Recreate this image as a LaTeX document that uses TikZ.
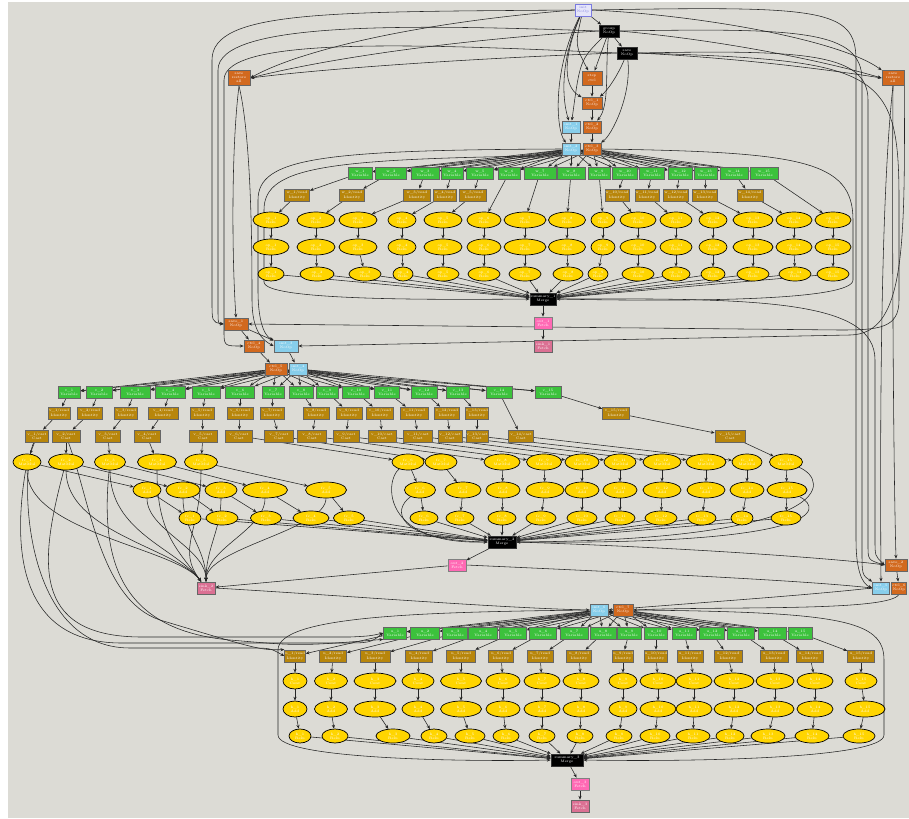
\documentclass[tikz,border=0pt]{standalone}
\usetikzlibrary{arrows.meta, shapes.geometric}

\definecolor{canvas}{HTML}{DCDBD5}
\definecolor{leafgreen}{HTML}{3CC23C}
\definecolor{readbrown}{HTML}{B8860B}
\definecolor{tensorgold}{HTML}{FFD500}
\definecolor{ctrlorange}{HTML}{D2691E}
\definecolor{initblue}{HTML}{87CEEB}
\definecolor{outpink}{HTML}{FF69B4}
\definecolor{lastpink}{HTML}{DB7093}
\definecolor{entryfill}{HTML}{E6E6FA}
\definecolor{entryline}{HTML}{7B7BE0}

\pgfdeclarelayer{canvaslayer}
\pgfdeclarelayer{edgelayer}
\pgfsetlayers{canvaslayer,edgelayer,main}

\tikzset{
  opbox/.style={rectangle, draw=black!60, line width=0.4pt, minimum height=0.24cm,
    inner sep=0.2pt, text=white, align=center, font=\fontsize{2}{2.4}\selectfont},
  entrybox/.style={opbox, fill=entryfill, draw=entryline, text=entryline, line width=0.5pt},
  varbox/.style={opbox, fill=leafgreen},
  readbox/.style={opbox, fill=readbrown},
  ctrlbox/.style={opbox, fill=ctrlorange},
  initbox/.style={opbox, fill=initblue},
  sumbox/.style={opbox, fill=black, draw=black!80},
  outbox/.style={opbox, fill=outpink, draw=black!50},
  lastbox/.style={opbox, fill=lastpink, draw=black!60},
  tensorell/.style={ellipse, draw=black, fill=tensorgold, line width=0.4pt, inner sep=0pt,
    minimum height=0.32cm, text=white, align=center, font=\fontsize{2}{2.4}\selectfont},
  flow/.style={-{Stealth[length=2.2pt, width=1.8pt]}, line width=0.32pt, black!85},
}

\begin{document}
\begin{tikzpicture}[x=0.02cm, y=-0.02cm]
  \useasboundingbox (0,0) rectangle (909,818);
  \begin{pgfonlayer}{canvaslayer}
    \fill[white] (0,0) rectangle (909,818);
    \fill[canvas] (8,2) rectangle (909,818);
  \end{pgfonlayer}

  % --- Top: entry and control nodes ---
  \node[entrybox, minimum width=0.32cm] (lav) at (583,10) {init\\NoOp};
  \node[sumbox, minimum width=0.4cm] (kt1) at (609,31) {group\\NoOp};
  \node[sumbox, minimum width=0.4cm] (kt2) at (627,53) {save\\NoOp};
  \node[ctrlbox, minimum width=0.44cm, minimum height=0.3cm] (otl) at (239,78) {save\\restore\\all};
  \node[ctrlbox, minimum width=0.44cm, minimum height=0.3cm] (otr) at (893,78) {save\\restore\\all};
  \node[ctrlbox, minimum width=0.4cm, minimum height=0.28cm] (ot1) at (592,78) {step\\ctrl};
  \node[ctrlbox, minimum width=0.4cm] (ot2) at (592,103) {ctrl\_1\\NoOp};
  \node[ctrlbox, minimum width=0.36cm] (ot3) at (592,127) {ctrl\_2\\NoOp};
  \node[ctrlbox, minimum width=0.36cm] (ot4) at (592,149) {ctrl\_3\\NoOp};
  \node[initbox, minimum width=0.36cm] (bt1) at (571,127) {init\_1\\NoOp};
  \node[initbox, minimum width=0.36cm] (bt2) at (571,149) {init\_2\\NoOp};

  % --- Section 1 ---
  \foreach \x/\w [count=\c] in {360/24,391/31,425/28,452/22,480/27,509/22,540/32,571/28,599/22,625/25,652/25,680/24,706/23,734/28,764/28}
    \node[varbox, minimum width=\w*0.02cm] (ga\c) at (\x,173) {w\_\c\\Variable};
  \foreach \x/\w/\c in {297/25/1,352/25/2,417/27/3,445/23/4,473/27/5,617/24/10,647/24/11,676/25/12,705/25/13,750/26/14}
    \node[readbox, minimum width=\w*0.02cm] (ba\c) at (\x,195) {w\_\c/read\\Identity};
  \foreach \x/\w [count=\c] in {271/36,316/38,358/38,402/28,443/38,484/34,525/42,567/37,603/24,638/36,676/32,713/28,753/40,794/36,833/36} {
    \node[tensorell, minimum width=\w*0.02cm] (ya\c) at (\x,220) {op\_\c\\Relu};
    \node[tensorell, minimum width=\w*0.02cm] (yb\c) at (\x,247) {op\_\c\\Relu};
  }
  \foreach \x/\w [count=\c] in {271/26,317/34,365/32,403/20,443/32,484/32,525/32,568/30,598/20,638/32,676/28,713/24,753/32,795/32,833/32}
    \node[tensorell, minimum width=\w*0.02cm, minimum height=0.28cm] (yc\c) at (\x,274) {op\_\c\\Relu};
  \node[sumbox, minimum width=0.52cm] (ka) at (543,299) {summary\_1\\Merge};
  \node[outbox, minimum width=0.36cm] (pa1) at (543,323) {out\_1\\Fetch};
  \node[lastbox, minimum width=0.36cm] (pa2) at (543,346) {sink\_1\\Fetch};

  % --- Middle control nodes ---
  \node[ctrlbox, minimum width=0.48cm] (om1) at (236,324) {save\_1\\NoOp};
  \node[ctrlbox, minimum width=0.4cm] (om2) at (254,346) {ctrl\_4\\NoOp};
  \node[initbox, minimum width=0.48cm] (bm1) at (286,346) {init\_3\\NoOp};
  \node[ctrlbox, minimum width=0.44cm] (om3) at (276,369) {ctrl\_5\\NoOp};
  \node[initbox, minimum width=0.36cm] (bm2) at (298,369) {init\_4\\NoOp};

  % --- Section 2 ---
  \foreach \x/\w [count=\c] in {69/22,99/26,135/30,170/30,206/28,240/29,273/22,301/24,327/22,356/27,387/25,424/26,458/23,499/26,548/26}
    \node[varbox, minimum width=\w*0.02cm] (gb\c) at (\x,392) {v\_\c\\Variable};
  \foreach \x/\w/\c in {59/22/1,90/25/2,126/23/3,163/30/4,202/24/5,240/26/6,272/24/7,316/26/8,349/26/9,380/27/10,414/28/11,447/25/12,477/23/13,616/27/15}
    \node[readbox, minimum width=\w*0.02cm] (bu\c) at (\x,413) {v\_\c/read\\Identity};
  \foreach \x/\w [count=\c] in {37/23,66/28,108/25,147/26,203/28,239/27,279/29,312/29,346/26,382/28,418/29,450/24,477/21,521/25,730/30}
    \node[readbox, minimum width=\w*0.02cm] (bl\c) at (\x,436) {v\_\c/cast\\Cast};
  \foreach \x/\w [count=\c] in {27/28,66/35,110/31,157/39,201/33,408/32,441/32,502/36,544/35,582/34,620/32,662/38,706/40,747/30,786/33}
    \node[tensorell, minimum width=\w*0.02cm] (yd\c) at (\x,462) {fc\_\c\\MatMul};
  \foreach \x/\w [count=\c] in {147/28,183/34,221/32,265/45,326/41,420/31,463/36,503/34,545/38,582/34,620/34,662/38,706/38,747/34,787/40}
    \node[tensorell, minimum width=\w*0.02cm] (ye\c) at (\x,490) {fc\_\c\\Add};
  \foreach \x/\w [count=\c] in {190/22,222/32,266/31,311/36,349/31,424/28,460/28,502/28,541/30,582/30,620/30,661/32,702/28,742/22,786/30}
    \node[tensorell, minimum width=\w*0.02cm, minimum height=0.28cm] (yf\c) at (\x,518) {fc\_\c\\Relu};
  \node[sumbox, minimum width=0.56cm] (kb) at (502,542) {summary\_2\\Merge};
  \node[outbox, minimum width=0.36cm] (pb1) at (457,565) {out\_2\\Fetch};
  \node[lastbox, minimum width=0.36cm] (pb2) at (206,588) {sink\_2\\Fetch};

  % --- Right edge nodes ---
  \node[ctrlbox, minimum width=0.44cm] (or1) at (896,565) {save\_2\\NoOp};
  \node[initbox, minimum width=0.34cm] (br) at (881,588) {init\_5\\NoOp};
  \node[ctrlbox, minimum width=0.3cm] (or2) at (899,588) {ctrl\_6\\NoOp};

  % --- Section 3 ---
  \node[initbox, minimum width=0.36cm] (bs) at (599,610) {init\_6\\NoOp};
  \node[ctrlbox, minimum width=0.4cm] (os) at (623,610) {ctrl\_7\\NoOp};
  \foreach \x/\w [count=\c] in {395/23,425/29,455/25,483/29,513/27,543/27,574/28,603/26,629/24,656/23,684/24,712/25,741/27,772/28,800/24}
    \node[varbox, minimum width=\w*0.02cm] (gc\c) at (\x,633) {u\_\c\\Variable};
  \foreach \x/\w [count=\c] in {295/20,333/27,375/30,419/27,461/29,501/25,540/26,579/25,623/20,656/23,690/26,728/28,774/28,810/27,861/27}
    \node[readbox, minimum width=\w*0.02cm] (bc\c) at (\x,656) {u\_\c/read\\Identity};
  \foreach \x/\w [count=\c] in {295/24,331/33,375/42,418/32,461/41,503/34,542/36,581/36,623/28,658/36,694/36,734/40,775/38,815/36,861/32}
    \node[tensorell, minimum width=\w*0.02cm] (yg\c) at (\x,681) {h\_\c\\Conv};
  \foreach \x/\w [count=\c] in {295/24,331/33,375/42,418/32,461/41,503/34,542/36,581/36,623/28,658/36,694/36,734/40,775/38,815/36,865/40}
    \node[tensorell, minimum width=\w*0.02cm] (yh\c) at (\x,709) {h\_\c\\Add};
  \foreach \x/\w [count=\c] in {300/22,335/26,393/34,434/26,470/30,506/26,542/26,580/26,619/26,655/30,693/34,730/28,768/34,812/34,859/32}
    \node[tensorell, minimum width=\w*0.02cm, minimum height=0.28cm] (yi\c) at (\x,736) {h\_\c\\Relu};
  \node[sumbox, minimum width=0.64cm] (kc) at (567,760) {summary\_3\\Merge};
  \node[outbox, minimum width=0.36cm] (pc1) at (580,784) {out\_3\\Fetch};
  \node[lastbox, minimum width=0.36cm] (pc2) at (580,806) {sink\_3\\Fetch};

  \begin{pgfonlayer}{edgelayer}
    % --- Top chain ---
    \draw[flow] (lav) -- (kt1);
    \draw[flow] (kt1) -- (kt2);
    \draw[flow] (lav) .. controls (575,45) .. (ot1);
    \draw[flow] (lav) .. controls (566,50) and (560,85) .. (ot2);
    \draw[flow] (lav) .. controls (560,60) and (562,100) .. (bt1);
    \draw[flow] (lav) .. controls (552,70) and (556,130) .. (bt2);
    \draw[flow] (kt1) -- (ot1);
    \draw[flow] (kt1) .. controls (580,60) .. (bt1);
    \draw[flow] (kt1) .. controls (605,70) and (610,105) .. (ot3);
    \draw[flow] (kt2) .. controls (618,75) and (608,90) .. (ot2);
    \draw[flow] (kt2) .. controls (632,95) and (612,135) .. (ot4);
    \draw[flow] (ot1) -- (ot2);
    \draw[flow] (ot2) -- (ot3);
    \draw[flow] (ot3) -- (ot4);
    \draw[flow] (bt1) -- (bt2);
    \draw[flow] (lav.west) .. controls (420,22) and (300,50) .. (otl.east);
    \draw[flow] (kt1.west) .. controls (450,40) and (320,60) .. (otl.east);
    \draw[flow] (kt2.west) .. controls (480,58) and (330,68) .. (otl.east);
    \draw[flow] (kt1.east) .. controls (720,40) and (820,60) .. (otr.west);
    \draw[flow] (kt2.east) .. controls (740,58) and (830,70) .. (otr.west);
    \draw[flow] (lav.east) .. controls (700,15) and (840,40) .. (otr.north west);

    % --- Long curves on the left ---
    \draw[flow] (lav.west) .. controls (330,12) and (212,10) .. (212,60) -- (212,300) .. controls (212,322) .. (om1.west);
    \draw[flow] (kt1.west) .. controls (400,24) and (218,22) .. (218,70) -- (218,305) .. controls (218,324) .. (om1.west);
    \draw[flow] (kt2.west) .. controls (420,44) and (224,36) .. (224,80) -- (224,330) .. controls (224,346) .. (om2.west);
    \draw[flow] (otl.south) .. controls (231,150) and (232,260) .. (om1.north);
    \draw[flow] (otl.south) .. controls (252,140) and (252,260) .. (252,300) .. controls (252,330) and (262,340) .. (bm1.west);
    \draw[flow] (bt2.west) .. controls (320,150) and (258,158) .. (258,200) -- (258,290) .. controls (258,330) and (268,338) .. (bm1.north west);
    \draw[flow] (ot4.south) .. controls (330,158) and (264,165) .. (264,210) -- (264,282) .. controls (264,300) and (420,300) .. (ka.west);

    % --- Long curves on the right ---
    \draw[flow] (lav.east) .. controls (820,6) and (856,8) .. (856,60) -- (856,540) .. controls (856,570) and (862,584) .. (br.west);
    \draw[flow] (kt1.east) .. controls (800,28) and (862,30) .. (862,80) -- (862,550) .. controls (862,575) .. (br.north west);
    \draw[flow] (kt2.east) .. controls (800,50) and (868,52) .. (868,100) -- (868,545) .. controls (868,560) .. (or1.west);
    \draw[flow] (otr.south) .. controls (892,200) and (893,450) .. (or1.north);
    \draw[flow] (otr.south) .. controls (880,200) and (880,450) .. (br.north);
    \draw[flow] (otr.south east) .. controls (905,250) and (905,334) .. (850,335) -- (bm1.east);
    \draw[flow] (kt2.east) .. controls (880,60) and (899,70) .. (899,200) -- (899,300) .. controls (899,328) and (880,330) .. (840,330) -- (om1.east);
    \draw[flow] (ka.east) .. controls (760,298) and (875,300) .. (875,360) -- (875,540) .. controls (875,556) .. (or1.west);
    \draw[flow] (ot4.east) .. controls (800,152) and (853,160) .. (853,220) -- (853,280) .. controls (853,300) and (700,302) .. (ka.east);

    % --- Section 1 flow ---
    \foreach \c in {1,...,15} {
      \draw[flow] (bt2) -- (ga\c);
      \draw[flow] (ot4) -- (ga\c);
      \draw[flow] (ya\c) -- (yb\c);
      \draw[flow] (yb\c) -- (yc\c);
      \draw[flow] (yc\c) -- (ka);
    }
    \foreach \c in {1,2,3,4,5,10,11,12,13,14} {
      \draw[flow] (ga\c) -- (ba\c);
      \draw[flow] (ba\c) -- (ya\c);
    }
    \foreach \c in {6,7,8,9,15}
      \draw[flow] (ga\c) -- (ya\c);
    \draw[flow] (ka) -- (pa1);
    \draw[flow] (pa1) -- (pa2);

    % --- Middle chain ---
    \draw[flow] (om1) -- (om2);
    \draw[flow] (om1) -- (bm1);
    \draw[flow] (om2) -- (om3);
    \draw[flow] (bm1) -- (bm2);

    % --- Section 2 flow ---
    \foreach \c in {1,...,15} {
      \draw[flow] (om3) -- (gb\c);
      \draw[flow] (bm2) -- (gb\c);
      \draw[flow] (bl\c) -- (yd\c);
      \draw[flow] (yd\c) -- (ye\c);
      \draw[flow] (ye\c) -- (yf\c);
      \draw[flow] (yf\c) -- (kb);
    }
    \foreach \c in {1,...,13,15} {
      \draw[flow] (gb\c) -- (bu\c);
      \draw[flow] (bu\c) -- (bl\c);
    }
    \draw[flow] (gb14) -- (bl14);
    \foreach \c in {1,...,5} {
      \draw[flow] (yd\c) .. controls +(0,70) and +(-30,-40) .. (pb2);
      \draw[flow] (ye\c) .. controls +(0,40) and +(0,-40) .. (pb2);
    }
    \draw[flow] (kb) -- (pb1);
    \draw[flow] (pb1) -- (pb2);
    \draw[flow] (yd1) .. controls (14,540) and (14,642) .. (120,643) -- (340,643) .. controls (370,643) .. (gc1.west);
    \draw[flow] (bl1) .. controls (20,470) and (20,648) .. (130,648) -- (250,648) .. controls (270,648) .. (bc1.west);
    \draw[flow] (yd2) .. controls (40,560) and (30,636) .. (140,637) -- (350,637) .. controls (370,636) .. (gc1.west);
    \draw[flow] (bl2) .. controls (90,500) and (100,600) .. (160,620) .. controls (260,650) .. (bc1.north west);
    \draw[flow] (yd3) .. controls (100,560) and (120,630) .. (230,640) .. controls (300,646) .. (gc1.south west);
    \draw[flow] (yd6) .. controls (385,480) and (380,545) .. (kb.west);
    \draw[flow] (ye6) .. controls (392,510) and (395,540) .. (kb.west);
    \draw[flow] (yd15) .. controls (830,480) and (840,540) .. (kb.east);
    \draw[flow] (ye15) .. controls (825,510) and (820,545) .. (kb.east);
    \draw[flow] (kb.east) .. controls (700,548) and (850,560) .. (or1.west);
    \draw[flow] (pb1.east) .. controls (620,572) and (800,580) .. (br.west);
    \draw[flow] (pb2.east) .. controls (350,596) and (500,608) .. (bs.west);

    % --- Right edge to section 3 ---
    \draw[flow] (or1) -- (or2);
    \draw[flow] (br.west) .. controls (800,596) and (680,604) .. (bs.east);
    \draw[flow] (or2.south) .. controls (890,612) and (720,606) .. (os.east);

    % --- Section 3 flow ---
    \foreach \c in {1,...,15} {
      \draw[flow] (bs) -- (gc\c);
      \draw[flow] (os) -- (gc\c);
      \draw[flow] (gc\c) -- (bc\c);
      \draw[flow] (bc\c) -- (yg\c);
      \draw[flow] (yg\c) -- (yh\c);
      \draw[flow] (yh\c) -- (yi\c);
      \draw[flow] (yi\c) -- (kc);
    }
    \draw[flow] (bs.west) .. controls (420,612) and (278,616) .. (278,650) -- (278,735) .. controls (278,758) and (450,762) .. (kc.west);
    \draw[flow] (os.east) .. controls (840,612) and (884,620) .. (884,660) -- (884,735) .. controls (884,758) and (700,762) .. (kc.east);
    \draw[flow] (kc) -- (pc1);
    \draw[flow] (pc1) -- (pc2);
  \end{pgfonlayer}
\end{tikzpicture}
\end{document}
